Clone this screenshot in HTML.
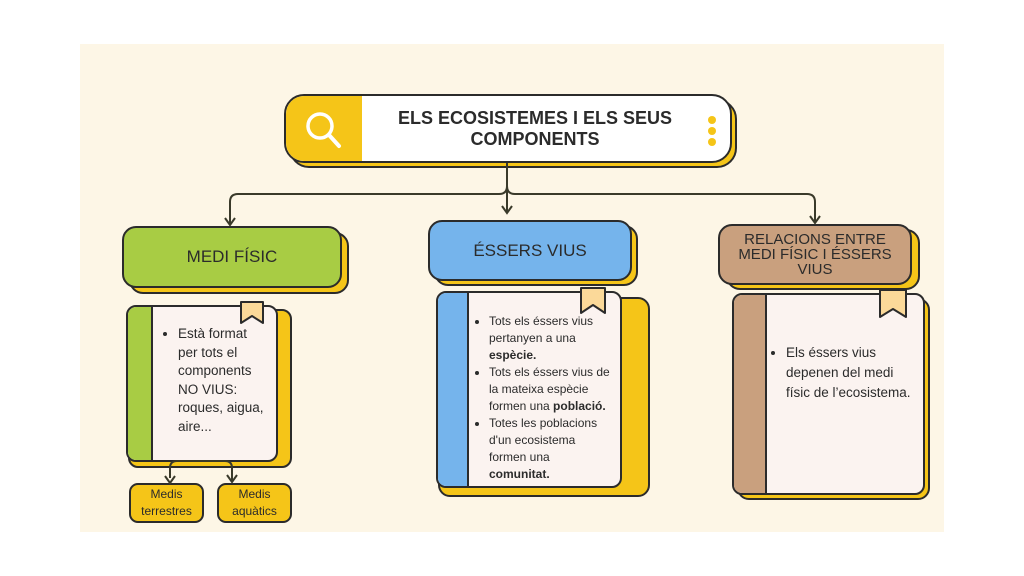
<!DOCTYPE html>
<html><head><meta charset="utf-8"><style>
body{margin:0;width:1024px;height:576px;background:#fff;position:relative;overflow:hidden;font-family:"Liberation Sans",sans-serif;color:#2b2b2b}
.abs{position:absolute;box-sizing:border-box}
.panel{left:80px;top:44px;width:864px;height:488px;background:#fdf6e6}
.b{border:2px solid #2b2b2b}
.sh{background:#f5c518}
.h{display:flex;align-items:center;justify-content:center;text-align:center;font-weight:bold}
.card{background:#fbf3f0;overflow:hidden}
ul{margin:0;padding-left:16px;white-space:nowrap}
li{margin:0}
</style></head><body>
<div class="abs panel"></div>
<!-- title -->
<div class="abs b sh" style="left:289px;top:99px;width:448px;height:69px;border-radius:20px"></div>
<div class="abs b" style="left:284px;top:94px;width:448px;height:69px;border-radius:20px;background:#fff;overflow:hidden">
 <div class="abs" style="left:0;top:0;width:76px;height:100%;background:#f5c518"></div>
 <svg class="abs" style="left:16px;top:12px" width="44" height="44"><circle cx="18" cy="18" r="12" fill="none" stroke="#fff" stroke-width="3.5"/><line x1="27" y1="27" x2="37" y2="38" stroke="#fff" stroke-width="4" stroke-linecap="round"/></svg>
 <div class="abs h" style="left:76px;top:0;width:346px;height:100%;font-size:18px;line-height:21px">ELS ECOSISTEMES I ELS SEUS<br>COMPONENTS</div>
 <div class="abs" style="left:422px;top:20px;width:8px;height:8px;border-radius:50%;background:#f5c518"></div>
 <div class="abs" style="left:422px;top:31px;width:8px;height:8px;border-radius:50%;background:#f5c518"></div>
 <div class="abs" style="left:422px;top:42px;width:8px;height:8px;border-radius:50%;background:#f5c518"></div>
</div>
<svg class="abs" style="left:0;top:0;z-index:2" width="1024" height="576">
 <g fill="none" stroke="#3a3a2a" stroke-width="2">
  <path d="M507 163 V186 Q507 194 499 194 H238 Q230 194 230 202 V224"/>
  <path d="M507 186 Q507 194 515 194 H807 Q815 194 815 202 V222"/>
  <path d="M507 186 V212"/>
  <path d="M170 478 V468 Q170 461 177 461 H225 Q232 461 232 468 V481"/>
  <path d="M225 218 L230 225 L235 218"/><path d="M502 206 L507 213 L512 206"/><path d="M810 216 L815 223 L820 216"/>
  <path d="M165 476 L170 483 L175 476"/><path d="M227 475 L232 482 L237 475"/>
 </g>
</svg>
<!-- headers -->
<div class="abs b sh" style="left:129px;top:232px;width:220px;height:62px;border-radius:14px"></div>
<div class="abs b h" style="left:122px;top:226px;width:220px;height:62px;border-radius:14px;background:#a8cc44;font-weight:normal;font-size:17px">MEDI FÍSIC</div>
<div class="abs b sh" style="left:434px;top:225px;width:204px;height:61px;border-radius:14px"></div>
<div class="abs b h" style="left:428px;top:220px;width:204px;height:61px;border-radius:14px;background:#75b4ec;font-weight:normal;font-size:17px">ÉSSERS VIUS</div>
<div class="abs b sh" style="left:726px;top:229px;width:194px;height:61px;border-radius:14px"></div>
<div class="abs b h" style="left:718px;top:224px;width:194px;height:61px;border-radius:14px;background:#c9a07e;font-weight:normal;font-size:15px;line-height:15px">RELACIONS ENTRE<br>MEDI FÍSIC I ÉSSERS<br>VIUS</div>
<!-- card1 -->
<div class="abs b sh" style="left:128px;top:309px;width:164px;height:159px;border-radius:10px"></div>
<div class="abs b card" style="left:126px;top:305px;width:152px;height:157px;border-radius:10px">
 <div class="abs" style="left:0;top:0;width:25px;height:100%;background:#a8cc44;border-right:2px solid #2b2b2b"></div>
 <ul class="abs" style="left:36px;top:18px;font-size:13.5px;line-height:18.5px;padding-left:14px"><li>Està format<br>per tots el<br>components<br>NO VIUS:<br>roques, aigua,<br>aire...</li></ul>
</div>
<svg class="abs" style="left:239px;top:300px" width="28" height="26"><polygon points="2,2 24,2 24,23 13,16 2,23" fill="#fbd999" stroke="#2b2b2b" stroke-width="2" stroke-linejoin="round"/></svg>
<div class="abs b sh h" style="left:129px;top:483px;width:75px;height:40px;border-radius:9px;font-weight:normal;font-size:12px;line-height:17px">Medis<br>terrestres</div>
<div class="abs b sh h" style="left:217px;top:483px;width:75px;height:40px;border-radius:9px;font-weight:normal;font-size:12px;line-height:17px">Medis<br>aquàtics</div>
<!-- card2 -->
<div class="abs b sh" style="left:438px;top:297px;width:212px;height:200px;border-radius:12px"></div>
<div class="abs b card" style="left:436px;top:291px;width:186px;height:197px;border-radius:10px">
 <div class="abs" style="left:0;top:0;width:31px;height:100%;background:#75b4ec;border-right:2px solid #2b2b2b"></div>
 <ul class="abs" style="left:38px;top:20px;font-size:12px;line-height:17px;padding-left:13px"><li>Tots els éssers vius<br>pertanyen a una<br><b>espècie.</b></li><li>Tots els éssers vius de<br>la mateixa espècie<br>formen una <b>població.</b></li><li>Totes les poblacions<br>d'un ecosistema<br>formen una<br><b>comunitat.</b></li></ul>
</div>
<svg class="abs" style="left:579px;top:286px" width="30" height="30"><polygon points="2,2 26,2 26,27 14,19 2,27" fill="#fbd999" stroke="#2b2b2b" stroke-width="2" stroke-linejoin="round"/></svg>
<!-- card3 -->
<div class="abs b sh" style="left:737px;top:298px;width:193px;height:202px;border-radius:12px"></div>
<div class="abs b card" style="left:732px;top:293px;width:193px;height:202px;border-radius:10px">
 <div class="abs" style="left:0;top:0;width:33px;height:100%;background:#c9a07e;border-right:2px solid #2b2b2b"></div>
 <ul class="abs" style="left:38px;top:48px;font-size:13.5px;line-height:20px;padding-left:14px"><li>Els éssers vius<br>depenen del medi<br>físic de l’ecosistema.</li></ul>
</div>
<svg class="abs" style="left:878px;top:288px" width="32" height="32"><polygon points="2,2 28,2 28,29 15,21 2,29" fill="#fbd999" stroke="#2b2b2b" stroke-width="2" stroke-linejoin="round"/></svg>
</body></html>
